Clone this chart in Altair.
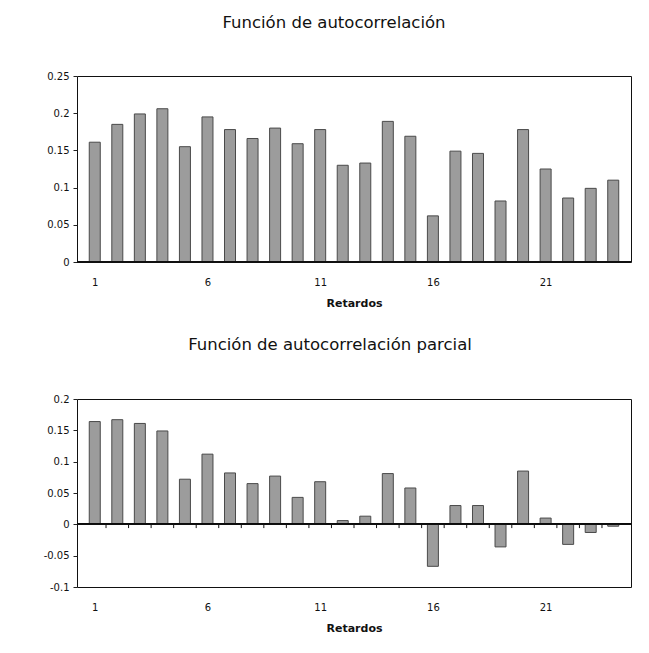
import altair as alt
import pandas as pd

lags = list(range(1, 25))
acf = [0.161, 0.185, 0.199, 0.206, 0.155, 0.195, 0.178, 0.166, 0.180, 0.159,
       0.178, 0.130, 0.133, 0.189, 0.169, 0.062, 0.149, 0.146, 0.082, 0.178,
       0.125, 0.086, 0.099, 0.110]
pacf = [0.164, 0.167, 0.161, 0.149, 0.072, 0.112, 0.082, 0.065, 0.077, 0.043,
        0.068, 0.006, 0.013, 0.081, 0.058, -0.067, 0.030, 0.030, -0.036, 0.085,
        0.010, -0.032, -0.013, -0.003]
label_lags = [1, 6, 11, 16, 21]
acf_ticks = [0, 0.05, 0.1, 0.15, 0.2, 0.25]
pacf_ticks = [-0.1, -0.05, 0, 0.05, 0.1, 0.15, 0.2]

FONT = "DejaVu Sans"
BAR_FILL = "#9c9c9c"
BAR_STROKE = "#4a4a4a"

df_acf = pd.DataFrame({"lag": lags, "value": acf})
df_pacf = pd.DataFrame({"lag": lags, "value": pacf})
df_sep = pd.DataFrame({"pos": [l + 0.5 for l in lags[:-1]]})

xdomain = [0.434, 24.566]
label_expr = "replace(format(datum.value, '~g'), '\u2212', '-')"


def xaxis():
    return alt.Axis(values=label_lags, ticks=False, domain=False, grid=False,
                    labelPadding=15, labelFontSize=10, labelFont=FONT,
                    labelColor="#111", labelOverlap=False,
                    title="Retardos", titleFontSize=11,
                    titleFont=FONT, titleFontWeight="bold", titlePadding=10,
                    titleColor="#111")


def yaxis(vals):
    return alt.Axis(values=vals, grid=False, domain=False, tickSize=4,
                    tickColor="#222", labelPadding=4, labelFontSize=10,
                    labelFont=FONT, labelColor="#111", labelExpr=label_expr,
                    labelOverlap=False, title=None)


def panel(df, ydom, yticks, title, height, offset, dx):
    span = ydom[1] - ydom[0]
    yscale = alt.Scale(domain=ydom, nice=False)
    xscale = alt.Scale(domain=xdomain, nice=False, zero=False)
    bars = alt.Chart(df).mark_bar(size=11, fill=BAR_FILL, stroke=BAR_STROKE,
                                  strokeWidth=1).encode(
        x=alt.X("lag:Q", scale=xscale, axis=xaxis(), title="Retardos"),
        y=alt.Y("value:Q", scale=yscale, axis=yaxis(yticks), stack=None,
                title=None),
    )
    zero = alt.Chart(df).mark_rule(color="#111", strokeWidth=1).encode(
        y=alt.Y(datum=0, scale=yscale, axis=yaxis(yticks), title=None))
    seps = alt.Chart(df_sep).mark_rule(color="#111", strokeWidth=1).encode(
        x=alt.X("pos:Q", scale=xscale, axis=xaxis(), title="Retardos"),
        y=alt.Y(datum=0.004 * span, scale=yscale, axis=yaxis(yticks), title=None),
        y2=alt.Y2(datum=-0.02 * span),
    )
    layers = [bars, zero]
    if ydom[0] < 0:
        layers.append(seps)
    return alt.layer(*layers).properties(
        width=554, height=height,
        title=alt.TitleParams(title, fontSize=16.5, font=FONT, fontWeight="normal",
                              color="#111", offset=offset, anchor="middle", dx=dx),
    )


top = panel(df_acf, [0, 0.25], acf_ticks, "Función de autocorrelación", 186, 40, -20)
bottom = panel(df_pacf, [-0.1, 0.2], pacf_ticks,
               "Función de autocorrelación parcial", 188, 41, -24)

chart = alt.vconcat(top, bottom, spacing=27).properties(
    padding={"left": 34, "top": 6, "right": 5, "bottom": 5},
    background="white",
).configure_view(stroke="#111", strokeWidth=1)

chart.save("out.html", embed_options={"renderer": "svg", "actions": False})
